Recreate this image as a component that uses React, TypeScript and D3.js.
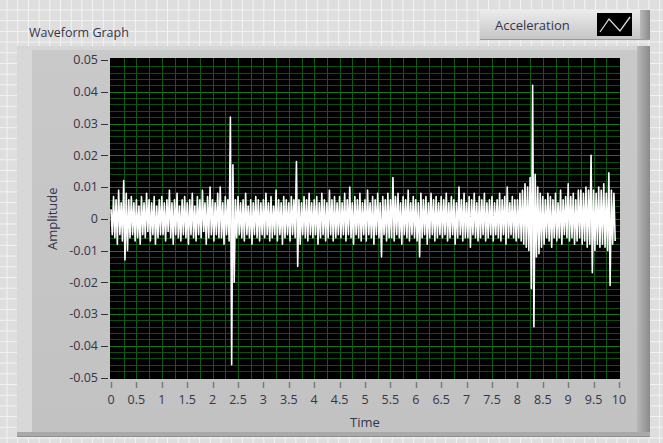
import React from 'react';
import * as d3 from 'd3';

// ---- Data ----
const TIME_TICKS = [0, 0.5, 1, 1.5, 2, 2.5, 3, 3.5, 4, 4.5, 5, 5.5, 6, 6.5, 7, 7.5, 8, 8.5, 9, 9.5, 10];
const TIME_TICK_LABELS = ['0', '0.5', '1', '1.5', '2', '2.5', '3', '3.5', '4', '4.5', '5', '5.5', '6', '6.5', '7', '7.5', '8', '8.5', '9', '9.5', '10'];
const AMP_TICKS = [0.05, 0.04, 0.03, 0.02, 0.01, 0, -0.01, -0.02, -0.03, -0.04, -0.05];
const AMP_TICK_LABELS = ['0.05', '0.04', '0.03', '0.02', '0.01', '0', '-0.01', '-0.02', '-0.03', '-0.04', '-0.05'];

// Waveform attributes (t0, dt) and samples (Y)
const T0 = 0;
const DT = 0.025;
const ACCELERATION = [
  0.003, -0.005, 0.007, -0.006, 0.006, -0.008, 0.009, -0.005, 0.005, -0.007, 0.012, -0.013, 0.008, -0.010, 0.006, -0.006, 0.007, -0.005, 0.005, -0.007,
  0.006, -0.006, 0.004, -0.008, 0.007, -0.005, 0.005, -0.006, 0.008, -0.004, 0.006, -0.007, 0.005, -0.005, 0.007, -0.008, 0.004, -0.006, 0.006, -0.005,
  0.007, -0.005, 0.005, -0.007, 0.006, -0.004, 0.009, -0.006, 0.005, -0.008, 0.006, -0.005, 0.008, -0.006, 0.004, -0.007, 0.006, -0.005, 0.007, -0.006,
  0.005, -0.008, 0.006, -0.005, 0.008, -0.006, 0.004, -0.007, 0.007, -0.005, 0.006, -0.006, 0.009, -0.004, 0.005, -0.008, 0.007, -0.006, 0.010, -0.005,
  0.006, -0.007, 0.005, -0.005, 0.008, -0.006, 0.010, -0.006, 0.005, -0.008, 0.007, -0.005, 0.006, -0.007, 0.032, -0.046, 0.017, -0.020, 0.006, -0.006,
  0.007, -0.005, 0.005, -0.006, 0.006, -0.007, 0.008, -0.005, 0.004, -0.006, 0.006, -0.008, 0.005, -0.005, 0.007, -0.006, 0.006, -0.007, 0.005, -0.005,
  0.006, -0.006, 0.008, -0.005, 0.005, -0.007, 0.007, -0.006, 0.004, -0.005, 0.009, -0.007, 0.006, -0.005, 0.005, -0.008, 0.007, -0.006, 0.006, -0.005,
  0.005, -0.007, 0.007, -0.005, 0.006, -0.006, 0.018, -0.015, 0.006, -0.008, 0.005, -0.005, 0.007, -0.006, 0.006, -0.007, 0.008, -0.005, 0.005, -0.006,
  0.006, -0.005, 0.007, -0.008, 0.005, -0.006, 0.008, -0.005, 0.006, -0.007, 0.005, -0.006, 0.009, -0.005, 0.006, -0.007, 0.007, -0.006, 0.005, -0.005,
  0.007, -0.006, 0.005, -0.005, 0.008, -0.007, 0.006, -0.005, 0.010, -0.006, 0.005, -0.008, 0.007, -0.005, 0.006, -0.006, 0.008, -0.007, 0.005, -0.005,
  0.006, -0.007, 0.009, -0.005, 0.005, -0.006, 0.007, -0.008, 0.006, -0.005, 0.008, -0.006, 0.005, -0.012, 0.007, -0.005, 0.006, -0.007, 0.008, -0.006,
  0.006, -0.006, 0.013, -0.007, 0.007, -0.005, 0.008, -0.006, 0.005, -0.008, 0.007, -0.005, 0.006, -0.006, 0.009, -0.007, 0.005, -0.005, 0.007, -0.006,
  0.006, -0.007, 0.005, -0.012, 0.008, -0.006, 0.006, -0.005, 0.007, -0.008, 0.005, -0.006, 0.008, -0.005, 0.006, -0.007, 0.007, -0.006, 0.005, -0.005,
  0.007, -0.006, 0.006, -0.005, 0.008, -0.007, 0.005, -0.006, 0.007, -0.005, 0.006, -0.008, 0.005, -0.006, 0.010, -0.005, 0.006, -0.007, 0.008, -0.006,
  0.005, -0.006, 0.007, -0.009, 0.006, -0.005, 0.008, -0.006, 0.005, -0.007, 0.007, -0.006, 0.006, -0.005, 0.008, -0.007, 0.005, -0.006, 0.006, -0.005,
  0.007, -0.007, 0.005, -0.005, 0.006, -0.006, 0.008, -0.007, 0.006, -0.005, 0.007, -0.008, 0.010, -0.006, 0.005, -0.005, 0.007, -0.006, 0.006, -0.007,
  0.006, -0.006, 0.008, -0.007, 0.009, -0.008, 0.011, -0.009, 0.010, -0.010, 0.013, -0.022, 0.042, -0.034, 0.014, -0.012, 0.010, -0.011, 0.008, -0.009,
  0.007, -0.008, 0.006, -0.006, 0.008, -0.007, 0.007, -0.009, 0.006, -0.006, 0.008, -0.007, 0.005, -0.006, 0.009, -0.008, 0.006, -0.005, 0.007, -0.006,
  0.011, -0.007, 0.007, -0.006, 0.008, -0.008, 0.006, -0.007, 0.009, -0.006, 0.009, -0.008, 0.008, -0.007, 0.010, -0.009, 0.009, -0.008, 0.020, -0.017,
  0.009, -0.010, 0.008, -0.008, 0.010, -0.009, 0.009, -0.008, 0.011, -0.009, 0.008, -0.010, 0.0145, -0.021, 0.009, -0.008, 0.008, -0.007,
];

const TITLE = 'Waveform Graph';
const LEGEND_LABEL = 'Acceleration';
const X_TITLE = 'Time';
const Y_TITLE = 'Amplitude';

const W = 663;
const H = 443;
const FONT = '"Open Sans", "DejaVu Sans", sans-serif';
const TEXT = '#35354a';

export default function App() {
  const plot = { left: 110, right: 620, top: 58, bottom: 379 };
  const x = d3.scaleLinear().domain([0, 10]).range([111, 619]);
  const y = d3.scaleLinear().domain([-0.05, 0.05]).range([377.5, 60]);

  const line = d3
    .line<number>()
    .x((_, i) => x(T0 + i * DT))
    .y((d) => y(d));

  const vGrid = d3.range(0.25, 10, 0.25);
  const hGrid = d3.range(-0.048, 0.0495, 0.002);

  return (
    <svg
      width={W}
      height={H}
      style={{ position: 'absolute', left: 0, top: 0, display: 'block' }}
      fontFamily={FONT}
    >
      <defs>
        <pattern id="bggrid" width={10.7} height={10.7} patternUnits="userSpaceOnUse" x={6.5} y={9.5}>
          <rect width={10.7} height={10.7} fill="#dedede" />
          <path d="M0 0.5 H10.7 M0.5 0 V10.7" stroke="#f3f3f3" strokeWidth={1} />
        </pattern>
        <linearGradient id="legendGrad" x1="0" y1="0" x2="0" y2="1">
          <stop offset="0" stopColor="#ececec" />
          <stop offset="1" stopColor="#c4c4c4" />
        </linearGradient>
        <linearGradient id="rightShadow" x1="0" y1="0" x2="1" y2="0">
          <stop offset="0" stopColor="#b8b8b8" />
          <stop offset="1" stopColor="#8a8a8a" />
        </linearGradient>
        <linearGradient id="plateGrad" x1="0" y1="0" x2="0" y2="1">
          <stop offset="0" stopColor="#c9c9c9" />
          <stop offset="1" stopColor="#c2c2c2" />
        </linearGradient>
        <clipPath id="plotClip">
          <rect x={plot.left} y={plot.top} width={plot.right - plot.left} height={plot.bottom - plot.top} />
        </clipPath>
      </defs>

      {/* front panel background grid */}
      <rect x={0} y={0} width={W} height={H} fill="url(#bggrid)" />

      {/* graph plate */}
      <rect x={17} y={46} width={633} height={391} fill="url(#plateGrad)" />
      <rect x={17} y={46} width={15} height={391} fill="#d8d8d8" />
      <rect x={17} y={46} width={633} height={4} fill="#d6d6d6" />
      <rect x={637} y={46} width={13} height={391} fill="url(#rightShadow)" />
      <rect x={17} y={432} width={633} height={5} fill="#a9a9a9" />
      <line x1={17} x2={650} y1={436.5} y2={436.5} stroke="#8e8e8e" />

      {/* title */}
      <text x={29} y={37} fontSize={12.5} fill={TEXT}>{TITLE}</text>

      {/* legend */}
      <g>
        <rect x={480} y={10} width={170} height={30} fill="url(#legendGrad)" />
        <rect x={640} y={10} width={10} height={30} fill="url(#rightShadow)" />
        <line x1={480} x2={650} y1={39.5} y2={39.5} stroke="#9c9c9c" />
        <text x={495} y={30} fontSize={13} fill={TEXT}>{LEGEND_LABEL}</text>
        <rect x={597} y={13} width={35} height={23} fill="#000" />
        <polyline points="600,32 609,19 620,31 630,17" fill="none" stroke="#d8d8d8" strokeWidth={1.3} />
      </g>

      {/* plot area */}
      <rect x={plot.left} y={plot.top} width={plot.right - plot.left} height={plot.bottom - plot.top} fill="#000" />
      <g clipPath="url(#plotClip)">
        {hGrid.map((v, i) => {
          const major = Math.abs(Math.round(v * 100) - v * 100) < 1e-6;
          return (
            <line key={'h' + i} x1={plot.left} x2={plot.right} y1={Math.round(y(v)) + 0.5} y2={Math.round(y(v)) + 0.5}
              stroke={major ? '#17761c' : '#0c4e10'} strokeWidth={1} />
          );
        })}
        {vGrid.map((v, i) => (
          <line key={'v' + i} x1={Math.round(x(v)) + 0.5} x2={Math.round(x(v)) + 0.5} y1={plot.top} y2={plot.bottom}
            stroke="#0e5a13" strokeWidth={1} />
        ))}
        <path d={line(ACCELERATION) || ''} fill="none" stroke="#ffffff" strokeWidth={1.6} strokeLinejoin="round" />
      </g>

      {/* y axis */}
      {AMP_TICKS.map((v, i) => (
        <g key={'yt' + i}>
          <line x1={101} x2={108} y1={Math.round(y(v)) + 0.5} y2={Math.round(y(v)) + 0.5} stroke="#333" strokeWidth={1} />
          <text x={98} y={y(v) + 4.4} fontSize={12.5} textAnchor="end" fill={TEXT}>{AMP_TICK_LABELS[i]}</text>
        </g>
      ))}
      <text transform={`translate(57,${y(0)}) rotate(-90)`} fontSize={13} textAnchor="middle" fill={TEXT}>{Y_TITLE}</text>

      {/* x axis */}
      {TIME_TICKS.map((v, i) => (
        <g key={'xt' + i}>
          <line x1={Math.round(x(v)) + 0.5} x2={Math.round(x(v)) + 0.5} y1={382} y2={388} stroke="#7a7a7a" strokeWidth={1.5} />
          <text x={x(v)} y={404} fontSize={12.5} textAnchor="middle" fill={TEXT}>{TIME_TICK_LABELS[i]}</text>
        </g>
      ))}
      <text x={x(5)} y={427} fontSize={13} textAnchor="middle" fill={TEXT}>{X_TITLE}</text>
    </svg>
  );
}
